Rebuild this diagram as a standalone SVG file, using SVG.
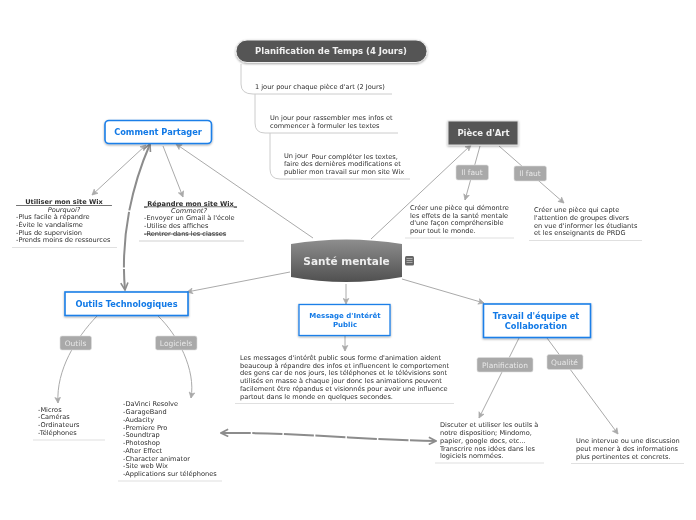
<svg xmlns="http://www.w3.org/2000/svg" width="696" height="520" viewBox="0 0 696 520">
<style>
text{font-family:"DejaVu Sans",Verdana,sans-serif;font-size:6.600px;fill:#2b2b2b;opacity:.99}
.c{text-anchor:middle}
.conn{fill:none;stroke:#aaa;stroke-width:1}
.thin{fill:none;stroke:#ccc;stroke-width:1}
.rule{stroke:#e0e0e0;stroke-width:1.2}
.thick{fill:none;stroke:#8c8c8c;stroke-width:2}
.blue{fill:#fff;stroke:#1a7fe8;stroke-width:1.6}
.bt{fill:#0f78e6;font-weight:bold;font-size:8.250px}
.bs{fill:#0f78e6;font-weight:bold;font-size:7px}
.tag{fill:#a9a9a9;stroke:#ddd;stroke-width:.6}
.tt{fill:#e8e8e8;font-size:7.500px;text-anchor:middle}
.head{font-size:8.500px;font-weight:bold;fill:#f2f2f2;text-anchor:middle}
</style>
<defs>
<linearGradient id="core" x1="0" y1="0" x2="0" y2="1"><stop offset="0" stop-color="#8e8e8e"/><stop offset="1" stop-color="#505050"/></linearGradient>
<filter id="sh" x="-10%" y="-20%" width="120%" height="150%"><feDropShadow dx="0" dy="1" stdDeviation="0.8" flood-color="#000" flood-opacity=".35"/></filter>
<marker id="a" viewBox="0 0 10 10" refX="9" refY="5" markerWidth="7" markerHeight="7" orient="auto-start-reverse" markerUnits="userSpaceOnUse"><path d="M1 1L9 5L1 9L3 5Z" fill="#aaa" stroke="#aaa" stroke-width="1"/></marker>
<marker id="b" viewBox="0 0 10 10" refX="9" refY="5" markerWidth="9" markerHeight="9" orient="auto-start-reverse" markerUnits="userSpaceOnUse"><path d="M1 1L9 5L1 9" fill="none" stroke="#8c8c8c" stroke-width="1.800"/></marker>
</defs>

<g id="connectors">
<path class="thin" d="M241 64V84Q241 94 253 94H392"/>
<path class="thin" d="M255 94V123Q255 133 265 133H398"/>
<path class="thin" d="M270 133V169Q270 179 280 179H410"/>
<path class="conn" marker-end="url(#a)" d="M313 238L176 144"/>
<path class="conn" marker-end="url(#a)" d="M371 239L471 145"/>
<path class="conn" marker-end="url(#a)" d="M290 272L187 292"/>
<path class="conn" marker-end="url(#a)" d="M346 284V304"/>
<path class="conn" marker-end="url(#a)" d="M402 279L484 303"/>
<path class="conn" marker-start="url(#a)" marker-end="url(#a)" d="M92 195L146 145"/>
<path class="conn" marker-end="url(#a)" d="M163 146L183 197"/>
<path class="conn" marker-end="url(#a)" d="M345 336V351"/>
<path class="conn" marker-end="url(#a)" d="M480 146L465 200"/>
<path class="conn" marker-end="url(#a)" d="M499 146L564 203"/>
<path class="conn" marker-end="url(#a)" d="M97 316C76 338 56 370 58 403"/>
<path class="conn" marker-end="url(#a)" d="M158 316C178 335 196 370 191 398"/>
<path class="conn" marker-end="url(#a)" d="M519 338L479 418"/>
<path class="conn" marker-end="url(#a)" d="M547 338L618 434"/>
<path class="thick" marker-start="url(#b)" marker-end="url(#b)" d="M125 290C121 245 128 195 150 144" stroke-dasharray="21 1.500 56 1.500 100"/>
<path class="thick" marker-start="url(#b)" marker-end="url(#b)" d="M221 433C290 432 365 440 436 441" stroke-dasharray="30 1.500"/>
</g>

<g id="central">
<path d="M291 244Q346 235 402 244V277Q346 287 291 277Z" fill="url(#core)"/>
<text class="c" x="346.500" y="265" style="font-size:10.500px;font-weight:bold;fill:#f0f0f0">Santé mentale</text>
<rect x="405" y="256" width="9" height="9.500" rx="1.500" fill="#666"/>
<path d="M406.500 258.500h6M406.500 260.500h6M406.500 262.500h6" stroke="#bbb" stroke-width=".8"/>
</g>

<g id="planification">
<rect x="236" y="40" width="191" height="22.500" rx="11" fill="#555" stroke="#eee" stroke-width="1" filter="url(#sh)"/>
<text class="head" x="331" y="54">Planification de Temps (4 Jours)</text>
</g>
<g id="plan-1"><text x="255" y="89">1 jour pour chaque pièce d'art (2 Jours)</text></g>
<g id="plan-2"><text x="270" y="120">Un jour pour rassembler mes infos et</text><text x="270" y="128">commencer à formuler les textes</text></g>
<g id="plan-3"><text x="284" y="158">Un jour</text><text x="311.500" y="158.500">Pour compléter les textes,</text><text x="284" y="166">faire des dernières modifications et</text><text x="284" y="174">publier mon travail sur mon site Wix</text></g>

<g id="comment-partager">
<rect x="105" y="120.500" width="106.500" height="23" rx="4" class="blue" filter="url(#sh)"/>
<text class="c bt" x="158" y="135">Comment Partager</text>
</g>
<g id="utiliser">
<text class="c" x="64" y="204" style="font-weight:bold;text-decoration:underline;white-space:pre" xml:space="preserve">    Utiliser mon site Wix    </text>
<text class="c" x="64" y="211.500" style="font-style:italic">Pourquoi?</text>
<text x="16" y="219">-Plus facile à répandre</text><text x="16" y="227">-Évite le vandalisme</text><text x="16" y="234.500">-Plus de supervision</text><text x="16" y="242">-Prends moins de ressources</text>
<line class="rule" x1="12" y1="247.500" x2="117" y2="247.500"/>
</g>
<g id="repandre">
<text x="144" y="205.500" style="font-weight:bold;text-decoration:underline">_Répandre mon site Wix_</text>
<text class="c" x="189" y="212.500" style="font-style:italic">Comment?</text>
<text x="144" y="220">-Envoyer un Gmail à l'école</text><text x="144" y="228">-Utilise des affiches</text><text x="144" y="236" style="text-decoration:line-through">-Rentrer dans les classes</text>
<line class="rule" x1="139" y1="241" x2="244" y2="241" style="stroke-width:1.600"/>
</g>

<g id="piece-art">
<rect x="448" y="121" width="70" height="24" fill="#555" stroke="#ddd" stroke-width="1" filter="url(#sh)"/>
<text class="head" x="483.500" y="136">Pièce d'Art</text>
</g>
<g id="tag-faut-1"><rect class="tag" x="456" y="165" width="32.500" height="15" rx="2"/><text class="tt" x="472" y="175">Il faut</text></g>
<g id="tag-faut-2"><rect class="tag" x="514" y="166" width="32.500" height="15" rx="2"/><text class="tt" x="530" y="176">Il faut</text></g>
<g id="piece-1"><text x="410" y="210">Créer une pièce qui démontre</text><text x="410" y="218">les effets de la santé mentale</text><text x="410" y="225">d'une façon compréhensible</text><text x="410" y="232.500">pour tout le monde.</text><line class="rule" x1="405" y1="238" x2="514" y2="238"/></g>
<g id="piece-2"><text x="534" y="212">Créer une pièce qui capte</text><text x="534" y="220">l'attention de groupes divers</text><text x="534" y="228">en vue d'informer les étudiants</text><text x="534" y="235">et les enseignants de PRDG</text><line class="rule" x1="529" y1="240.500" x2="642" y2="240.500"/></g>

<g id="outils-techno">
<rect x="65" y="292" width="123" height="23.500" class="blue" filter="url(#sh)"/>
<text class="c bt" x="126.500" y="307">Outils Technologiques</text>
</g>
<g id="tag-outils"><rect class="tag" x="60" y="336" width="31.500" height="14" rx="2"/><text class="tt" x="75.500" y="346">Outils</text></g>
<g id="tag-logiciels"><rect class="tag" x="155.500" y="336" width="41.500" height="14" rx="2"/><text class="tt" x="176" y="346">Logiciels</text></g>
<g id="materiel"><text x="38" y="412">-Micros</text><text x="38" y="419">-Caméras</text><text x="38" y="427">-Ordinateurs</text><text x="38" y="435">-Téléphones</text><line class="rule" x1="33" y1="440" x2="105" y2="440"/></g>
<g id="logiciels">
<text x="123" y="406">-DaVinci Resolve</text><text x="123" y="414">-GarageBand</text><text x="123" y="422">-Audacity</text><text x="123" y="430">-Premiere Pro</text><text x="123" y="437">-Soundtrap</text><text x="123" y="445">-Photoshop</text><text x="123" y="453">-After Effect</text><text x="123" y="461">-Character animator</text><text x="123" y="468">-Site web Wix</text><text x="123" y="476">-Applications sur téléphones</text>
<line class="rule" x1="118" y1="481" x2="222" y2="481"/>
</g>

<g id="message">
<rect x="299" y="304.500" width="91" height="31" class="blue" style="stroke-width:1.300" filter="url(#sh)"/>
<text class="c bs" x="345" y="318">Message d'Intérêt</text><text class="c bs" x="345" y="327">Public</text>
</g>
<g id="message-texte">
<text x="240" y="360">Les messages d'intérêt public sous forme d'animation aident</text>
<text x="240" y="368">beaucoup à répandre des infos et influencent le comportement</text>
<text x="240" y="375">des gens car de nos jours, les téléphones et le télévisions sont</text>
<text x="240" y="383">utilisés en masse à chaque jour donc les animations peuvent</text>
<text x="240" y="391">facilement être répandus et visionnés pour avoir une influence</text>
<text x="240" y="399">partout dans le monde en quelques secondes.</text>
<line class="rule" x1="235" y1="403.500" x2="454" y2="403.500"/>
</g>

<g id="travail">
<rect x="483.500" y="304" width="107" height="33.500" class="blue" filter="url(#sh)"/>
<text class="c bt" x="536" y="319">Travail d'équipe et</text><text class="c bt" x="536" y="329">Collaboration</text>
</g>
<g id="tag-planification"><rect class="tag" x="477" y="357.500" width="56" height="14.500" rx="2"/><text class="tt" x="505" y="368">Planification</text></g>
<g id="tag-qualite"><rect class="tag" x="547" y="354.500" width="36" height="15" rx="2"/><text class="tt" x="564.500" y="365">Qualité</text></g>
<g id="travail-1"><text x="440" y="427">Discuter et utiliser les outils à</text><text x="440" y="434.500">notre disposition; Mindomo,</text><text x="440" y="442.500">papier, google docs, etc...</text><text x="440" y="450.500">Transcrire nos idées dans les</text><text x="440" y="458">logiciels nommées.</text><line class="rule" x1="435" y1="463" x2="544" y2="463"/></g>
<g id="travail-2"><text x="576" y="443">Une intervue ou une discussion</text><text x="576" y="451">peut mener à des informations</text><text x="576" y="458.500">plus pertinentes et concrets.</text><line class="rule" x1="571" y1="463.500" x2="684" y2="463.500"/></g>
</svg>
